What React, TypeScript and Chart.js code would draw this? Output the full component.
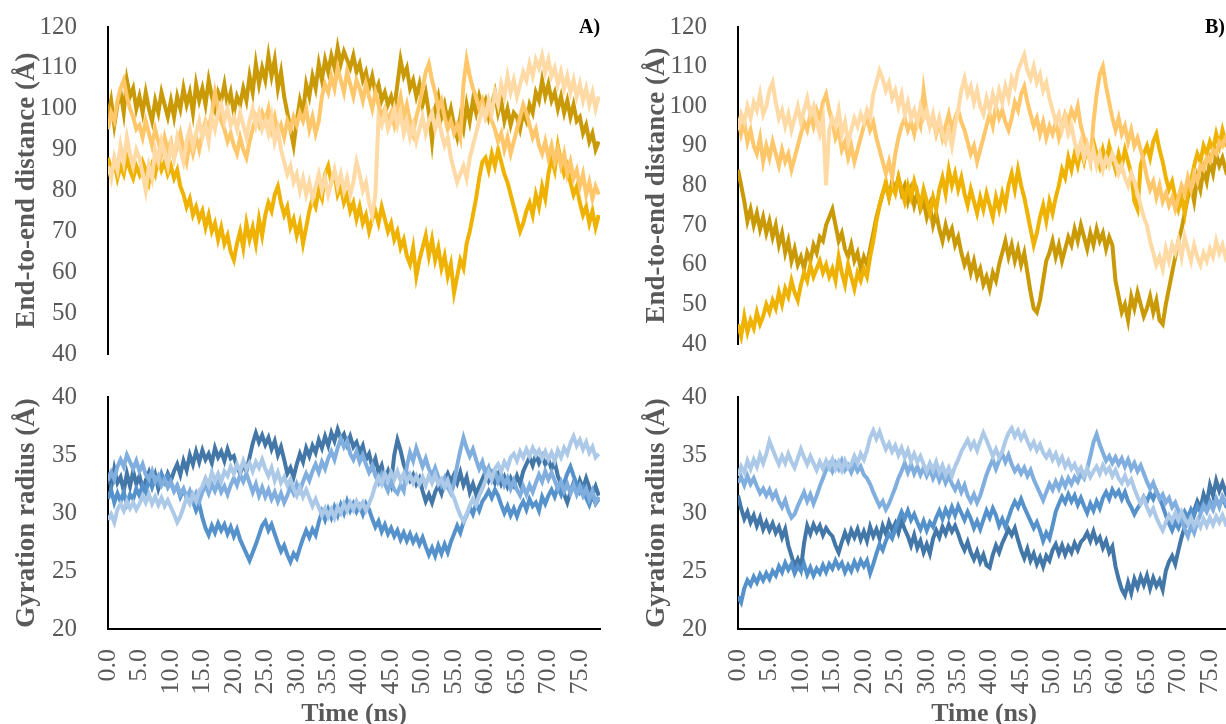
import React, { useEffect, useRef } from "react";
import { Chart, registerables } from "chart.js";

Chart.register(...registerables);

// Time axis: one sample every 0.5 ns, 0 … 78 ns
const TIME: number[] = Array.from({ length: 157 }, (_, i) => i * 0.5);
const X_TICKS = [0, 5, 10, 15, 20, 25, 30, 35, 40, 45, 50, 55, 60, 65, 70, 75];
const E2E_TICKS = [40, 50, 60, 70, 80, 90, 100, 110, 120];
const RG_TICKS = [20, 25, 30, 35, 40];

const GOLD = ["#C99A06", "#EFB200", "#FFC76A", "#FFDAA5"];
const BLUE = ["#4377A8", "#5592CB", "#80AEDE", "#ACC9E8"];

// ---- Panel A, end-to-end distance (Å) ----
const A_E2E_1 = [
  98,102,96,101,104,99,107,103,105,100, 103,99,104,100,97,102,99,104,101,98,
  102,98,103,100,105,101,104,99,106,102, 105,101,107,103,100,104,102,106,101,104,
  99,103,101,105,102,108,104,111,106,110, 107,113,108,112,105,109,103,99,95,91,
  97,102,99,106,103,108,105,111,107,112, 109,113,110,115,111,114,112,110,113,109,
  111,107,109,105,108,104,106,102,104,101, 103,100,106,112,108,110,105,107,103,106,
  101,104,99,92,100,103,98,101,97,100, 96,93,98,95,101,97,102,99,103,100,
  102,98,101,104,99,102,97,100,96,99, 98,95,99,97,101,99,104,102,107,103,
  106,102,104,100,103,99,102,98,101,97, 98,94,96,92,94,90,92,
];
const A_E2E_2 = [
  88,85,87,83,86,84,88,85,83,86, 84,87,85,82,86,84,88,85,87,84,
  86,83,85,81,79,76,78,74,76,73, 75,71,74,70,72,68,71,67,69,65,
  63,67,70,66,72,68,71,67,73,69, 74,77,75,79,81,77,74,76,71,73,
  69,72,67,71,75,78,76,80,78,84, 86,82,84,79,81,77,79,75,77,73,
  76,72,74,70,73,75,72,76,73,70, 72,68,70,66,68,64,62,66,59,63,
  66,69,64,68,63,66,61,64,59,62, 55,59,63,61,67,70,74,78,83,87,
  88,85,89,86,90,87,84,82,79,76, 73,70,72,75,77,74,79,76,81,78,
  84,88,85,91,87,84,86,82,79,81, 77,74,76,72,75,71,74,
];
const A_E2E_3 = [
  95,99,97,102,105,107,103,100,98,95, 96,93,97,94,91,95,92,89,93,90,
  92,88,91,94,90,87,92,89,93,90, 94,97,95,99,104,100,97,95,92,94,
  91,89,93,90,88,92,95,98,96,99, 97,100,95,98,94,96,93,97,95,98,
  96,99,97,100,95,98,94,97,103,106, 104,108,105,110,107,104,109,106,103,107,
  105,102,106,103,100,104,101,98,100,97, 99,96,100,103,98,101,97,94,98,101,
  105,109,111,107,104,100,102,98,95,97, 94,96,93,106,112,108,105,103,100,102,
  98,100,97,95,92,94,90,93,89,92, 95,98,101,99,96,93,95,91,89,92,
  88,91,87,90,86,89,84,87,83,85, 81,84,79,82,78,81,79,
];
const A_E2E_4 = [
  86,83,88,85,91,87,93,89,86,90, 88,84,80,86,83,90,87,92,89,86,
  91,88,93,90,87,92,95,91,94,97, 93,96,92,98,95,99,101,97,100,96,
  98,95,99,96,93,97,100,96,99,95, 97,94,98,92,95,90,87,84,86,82,
  84,80,83,79,82,78,81,84,80,83, 79,82,85,81,84,80,83,79,82,87,
  84,80,82,77,74,79,98,96,99,95, 97,100,96,99,94,97,93,96,92,95,
  98,94,97,99,95,98,94,91,93,88, 85,82,84,86,83,88,91,94,97,100,
  98,102,99,104,101,106,103,108,104,107, 103,106,109,107,111,108,112,110,113,109,
  112,108,110,106,109,105,108,104,107,103, 106,102,105,101,104,100,103,
];

// ---- Panel B, end-to-end distance (Å) ----
const B_E2E_1 = [
  84,80,76,71,74,70,73,69,72,68, 71,67,70,65,68,63,66,61,64,60,
  62,59,63,61,65,63,67,66,70,72, 74,70,66,68,64,62,65,61,63,59,
  62,60,64,68,72,75,78,80,77,81, 79,82,78,80,76,79,75,78,74,76,
  72,75,70,73,69,66,70,67,69,65, 67,63,60,62,58,61,57,59,55,57,
  54,58,56,60,63,66,62,65,61,64, 60,63,58,53,49,48,51,56,61,63,
  66,62,65,61,64,67,65,69,66,70, 67,64,68,65,69,66,68,64,67,65,
  56,52,48,50,46,52,49,53,50,47, 49,52,48,51,46,45,50,54,58,62,
  66,69,73,77,80,76,82,79,84,81, 86,83,88,85,87,84,86,
];
const B_E2E_2 = [
  45,42,47,43,46,44,48,45,47,50, 48,51,49,53,50,54,52,56,53,51,
  55,58,56,60,57,59,61,58,60,57, 59,56,62,58,55,60,57,54,58,56,
  59,57,62,66,71,75,78,81,77,80, 78,82,79,76,80,77,81,78,75,79,
  76,73,77,74,79,82,78,84,80,83, 79,82,78,75,79,76,73,77,74,78,
  75,72,77,74,78,75,80,83,79,84, 80,77,73,69,65,68,72,75,71,76,
  73,77,80,84,82,87,84,88,85,89, 86,90,87,91,88,85,89,86,90,87,
  84,88,85,89,86,83,76,74,85,88, 90,87,91,93,89,86,82,79,81,77,
  74,77,73,79,81,85,88,86,90,88, 91,89,93,90,94,91,93,
];
const B_E2E_3 = [
  97,93,96,91,94,90,88,92,86,90, 87,91,88,85,89,86,88,84,87,90,
  93,96,94,98,95,99,97,101,103,99, 96,92,94,89,91,87,90,86,89,92,
  95,97,94,96,92,89,86,83,86,82, 88,92,95,97,94,96,93,97,95,104,
  98,95,97,93,96,92,95,98,94,97, 99,96,94,91,88,90,86,89,92,95,
  98,95,100,97,99,96,94,97,101,99, 103,105,101,98,95,97,93,96,92,95,
  93,96,92,95,98,96,99,97,100,95, 92,89,86,96,103,108,110,105,101,97,
  94,97,93,95,91,94,90,92,89,86, 82,79,81,77,80,76,78,75,77,74,
  77,80,78,82,79,83,81,85,84,87, 86,89,88,91,90,92,91,
];
const B_E2E_4 = [
  94,98,96,100,97,101,99,103,98,100, 104,106,101,97,99,95,98,94,97,100,
  96,99,102,98,100,96,93,97,80,94, 97,95,99,93,96,91,94,97,95,98,
  96,99,97,103,106,109,107,104,106,102, 104,100,103,98,101,97,99,96,100,97,
  99,95,98,94,97,93,91,94,90,95, 99,104,107,103,105,101,104,100,98,102,
  99,103,100,104,101,105,102,107,105,109, 111,113,109,107,110,106,108,104,106,102,
  99,96,98,94,97,93,95,91,88,91, 87,90,86,89,85,88,84,87,85,88,
  86,83,85,82,80,83,81,78,75,72, 70,66,63,60,62,59,64,61,65,63,
  66,62,67,64,61,65,62,60,63,61, 64,62,66,63,65,62,64,
];

// ---- Panel A, gyration radius (Å) ----
const A_RG_1 = [
  33.5,32.2,33.8,32.6,33.1,31.9,33.4,32.3,33.6,32.5, 33.2,32.0,32.8,33.5,32.4,33.3,32.1,33.0,32.6,33.4,
  32.8,33.6,34.2,33.3,34.5,33.7,35.0,34.2,35.3,34.4, 35.4,34.6,35.1,34.3,35.6,34.8,35.3,34.5,35.5,34.7,
  34.9,34.0,33.4,34.2,33.6,34.8,36.0,36.9,36.1,36.7, 35.9,36.5,35.5,36.2,35.0,35.7,34.6,33.4,33.9,33.1,
  34.2,35.1,34.4,35.6,34.9,35.8,35.2,36.3,35.6,36.6, 35.8,36.9,36.2,37.2,36.4,36.8,35.9,36.6,35.7,36.1,
  35.2,35.8,34.6,35.1,34.0,34.7,33.5,34.1,32.9,33.6, 32.6,35.0,36.3,35.4,34.2,33.4,32.8,33.3,32.5,33.0,
  31.9,31.0,31.6,30.9,31.8,32.4,31.7,32.8,33.4,32.7, 33.3,32.6,33.5,32.4,33.1,31.8,32.5,31.6,32.3,32.9,
  33.6,32.8,33.4,32.6,33.3,32.5,33.1,32.3,33.0,32.4, 33.2,32.5,33.6,34.2,34.8,34.1,35.0,34.3,34.9,34.2,
  34.6,33.8,34.4,33.2,32.5,31.6,30.9,31.8,32.6,31.9, 32.8,32.1,33.0,32.2,31.6,32.3,31.5,
];
const A_RG_2 = [
  31.2,32.0,30.9,31.7,31.0,31.8,30.8,31.6,31.2,32.1, 31.5,32.4,31.8,32.9,32.2,33.0,32.5,33.4,32.7,33.2,
  32.6,31.9,32.3,31.4,32.0,31.3,31.8,31.0,30.2,30.8, 29.6,28.7,28.1,28.9,28.3,29.1,28.5,29.0,28.2,28.8,
  28.0,28.6,27.7,27.1,26.5,25.9,26.6,27.3,28.1,28.9, 29.3,28.5,29.0,28.2,27.4,26.7,27.2,26.4,25.8,26.5,
  26.1,27.0,27.8,28.5,27.9,28.6,28.1,29.2,30.1,29.4, 30.3,29.6,30.5,29.8,30.7,30.0,31.0,30.2,30.8,30.1,
  30.6,29.9,30.8,30.3,29.5,28.8,29.3,28.4,29.0,28.2, 28.7,28.0,28.5,27.7,28.3,27.6,28.2,27.5,28.0,27.3,
  27.9,27.1,26.4,27.0,26.3,27.2,26.5,27.3,26.6,27.5, 28.2,28.9,28.3,29.2,29.8,30.5,29.9,30.8,30.2,31.0,
  31.4,31.9,31.3,32.0,31.5,30.7,30.0,30.6,29.8,30.4, 29.7,30.5,31.0,30.3,31.2,30.6,30.9,30.2,31.4,30.8,
  31.5,32.0,31.4,32.2,31.6,32.6,33.4,34.0,33.2,32.5, 31.8,32.2,31.3,30.7,31.5,30.8,31.2,
];
const A_RG_3 = [
  32.8,33.5,32.9,34.0,34.6,34.0,35.0,34.4,33.8,34.5, 33.6,34.2,33.3,32.9,33.6,32.7,33.2,32.4,32.9,32.2,
  32.7,31.9,32.4,31.6,32.1,31.3,31.9,31.1,31.7,31.0, 31.8,32.4,31.7,32.5,31.9,32.6,31.8,32.3,31.6,32.4,
  33.0,32.4,33.3,32.7,33.4,32.6,31.8,32.5,31.5,32.2, 31.4,32.0,31.2,31.8,31.0,31.7,30.9,31.5,32.3,31.7,
  32.5,31.9,32.7,33.4,32.8,33.6,34.2,33.5,34.4,33.8, 34.7,35.3,34.6,35.6,36.4,35.7,36.2,35.1,34.6,35.3,
  34.4,35.0,34.2,33.5,34.1,33.2,32.6,33.3,32.5,31.9, 32.7,32.0,31.7,32.4,31.9,34.0,35.2,34.5,35.6,34.8,
  34.0,34.7,33.8,33.2,33.9,33.1,32.4,33.0,32.2,31.7, 32.5,34.1,35.4,36.5,35.6,34.9,35.5,34.6,33.8,34.4,
  33.3,33.9,32.9,33.6,32.7,33.3,32.4,33.0,32.1,32.8, 32.0,31.5,32.3,31.6,32.4,31.8,32.6,33.3,32.7,33.6,
  32.9,33.5,32.8,32.1,32.7,31.9,32.5,31.7,32.4,31.6, 32.3,31.5,32.1,31.2,31.9,30.9,31.4,
];
const A_RG_4 = [
  29.4,29.9,29.2,30.3,30.8,30.2,31.0,30.4,30.9,30.3, 30.8,31.5,30.9,31.6,30.8,31.4,30.7,31.3,30.6,31.1,
  30.5,29.9,29.2,29.7,30.5,31.3,30.8,31.6,31.0,31.9, 32.3,33.0,32.4,33.5,32.8,33.4,32.7,33.6,33.2,34.0,
  33.4,34.2,33.6,34.5,33.8,34.3,33.6,34.4,33.9,34.6, 33.8,33.2,33.9,32.8,33.5,32.6,33.1,32.4,32.9,32.1,
  31.5,32.2,31.4,32.0,31.3,30.6,31.2,30.5,29.8,30.4, 29.7,30.3,29.6,30.5,30.0,30.8,30.2,30.9,30.3,31.0,
  30.4,30.9,30.2,30.8,31.5,32.4,33.1,32.5,33.4,32.8, 33.5,32.9,33.6,32.8,33.4,32.7,33.3,32.6,33.2,32.5,
  33.1,32.4,33.2,32.6,33.3,32.5,32.9,32.2,32.8,31.9, 31.3,30.5,29.8,29.3,29.9,30.6,31.2,30.7,31.5,32.1,
  32.8,33.5,32.9,33.8,34.2,33.6,34.4,33.9,34.8,35.1, 34.5,35.3,34.8,35.5,34.9,35.6,35.0,35.4,34.7,35.3,
  34.6,35.2,34.5,35.4,34.8,35.6,35.1,36.0,36.6,35.8, 36.3,35.5,36.1,35.2,35.7,34.8,35.1,
];

// ---- Panel B, gyration radius (Å) ----
const B_RG_1 = [
  31.5,30.4,29.5,30.1,29.2,29.8,28.9,29.6,28.6,29.2, 28.5,29.1,28.3,28.8,27.9,28.6,27.2,26.3,25.4,26.0,
  25.2,27.4,28.9,28.2,29.0,28.4,28.9,28.1,28.7,28.3, 28.0,27.2,26.6,27.5,28.3,27.6,28.5,27.9,28.6,27.7,
  28.4,27.6,28.8,28.0,28.6,27.8,28.9,28.2,29.2,28.5, 29.1,28.3,29.3,28.6,28.0,27.2,28.1,27.0,27.6,26.6,
  27.3,26.5,27.8,28.5,27.9,28.8,28.2,29.0,28.4,28.9, 28.2,27.4,26.8,27.5,26.6,26.0,26.7,25.8,26.4,25.5,
  25.3,26.4,27.2,26.6,27.4,28.0,28.6,28.1,28.7,27.7, 26.8,26.1,26.9,25.9,26.5,25.6,26.2,25.4,26.3,25.9,
  26.8,27.3,26.5,27.2,26.4,27.1,26.6,27.4,26.8,27.5, 27.8,28.3,27.6,28.4,27.5,27.9,27.0,27.6,26.6,27.1,
  25.4,24.3,23.4,22.9,24.0,23.1,24.3,23.6,24.5,23.8, 24.6,23.5,24.4,23.7,24.2,23.4,25.0,25.8,26.3,25.6,
  26.8,27.9,28.8,29.5,28.9,30.2,31.0,30.4,31.6,30.8, 32.4,31.5,32.8,31.9,32.6,31.8,32.4,
];
const B_RG_2 = [
  22.8,22.3,23.5,24.2,23.8,24.5,24.0,24.7,24.2,24.8, 24.3,25.0,24.6,25.4,24.9,25.7,25.1,25.6,24.8,25.4,
  25.0,25.6,24.7,25.3,24.6,25.2,24.8,25.5,24.9,25.6, 25.2,25.9,25.3,25.7,24.9,25.5,25.0,25.8,25.2,25.9,
  25.4,25.9,24.8,25.6,26.5,27.3,26.8,27.6,28.2,27.8, 28.6,29.4,30.1,29.5,30.2,29.4,29.9,29.2,28.6,29.3,
  28.5,29.2,28.8,29.6,30.2,29.5,30.3,29.7,30.5,29.8, 30.6,30.0,29.4,30.1,29.5,28.7,29.3,28.6,29.4,30.2,
  29.6,30.4,29.8,28.9,29.5,28.8,29.6,30.4,31.0,30.5, 31.2,30.5,29.9,29.3,28.7,29.2,28.5,27.6,28.3,27.8,
  28.9,30.1,30.8,31.4,30.9,31.6,31.0,31.5,30.7,31.3, 30.6,30.0,30.8,30.2,31.0,30.4,31.3,31.8,31.2,32.0,
  31.5,31.9,31.2,31.8,31.0,30.5,29.9,30.4,30.8,31.4, 31.0,31.7,31.2,31.9,31.3,30.6,29.8,29.1,28.5,29.2,
  28.7,29.4,30.1,29.6,30.3,29.8,30.6,30.1,30.8,30.3, 31.0,30.4,31.2,30.6,31.3,30.7,31.1,
];
const B_RG_3 = [
  32.6,33.1,32.4,33.2,32.5,33.0,32.3,31.7,32.1,31.5, 32.0,31.3,31.8,31.0,30.5,31.1,30.2,29.6,29.9,30.6,
  31.2,31.8,31.0,31.6,30.8,31.5,32.3,33.0,33.7,34.2, 33.6,34.3,33.8,34.5,33.7,34.1,33.5,34.2,33.6,34.0,
  33.3,33.0,32.5,31.8,31.2,30.6,31.0,30.3,30.8,31.5, 32.2,33.0,33.6,34.3,33.5,34.2,33.4,34.0,33.3,33.9,
  33.2,33.8,33.0,33.6,32.8,33.4,32.6,33.2,32.5,32.0, 32.6,31.8,32.4,31.5,31.0,31.6,30.9,31.5,32.4,33.3,
  34.0,34.6,33.8,34.5,35.1,34.4,35.0,34.2,33.6,34.0, 33.4,33.9,33.2,33.7,32.9,32.3,31.7,31.1,31.8,32.5,
  32.0,32.7,32.1,32.9,32.3,33.0,32.5,33.1,32.7,33.4, 33.0,33.8,34.9,36.1,36.8,35.9,35.2,34.5,34.9,34.3,
  34.8,34.2,34.7,34.0,34.6,33.8,34.3,33.6,34.1,33.4, 32.7,32.1,32.6,31.8,31.2,31.6,30.9,31.3,30.5,30.9,
  30.2,29.4,28.6,28.0,28.9,28.3,29.2,29.9,30.6,30.1, 30.8,30.3,31.2,30.5,31.4,30.9,31.3,
];
const B_RG_4 = [
  33.2,34.0,33.5,34.5,33.8,34.6,34.0,35.0,34.3,35.1, 36.2,35.5,34.8,34.2,34.9,34.3,35.1,34.4,33.9,34.7,
  35.5,34.8,34.2,34.9,34.3,33.7,34.4,33.8,34.5,33.9, 34.6,33.8,34.4,33.7,34.5,33.9,34.2,34.9,34.3,35.1,
  34.6,35.4,36.5,37.1,36.4,37.0,36.2,35.5,36.0,35.3, 35.8,35.0,35.6,34.8,35.4,34.5,35.1,34.4,34.9,34.2,
  33.6,34.3,33.7,34.4,33.5,34.1,33.3,33.9,33.2,34.0, 34.6,35.3,35.8,36.3,35.6,36.1,35.4,36.2,36.9,36.3,
  35.6,34.9,35.5,34.8,35.3,36.2,36.9,37.3,36.6,37.1, 36.4,36.9,36.2,35.6,36.1,35.4,35.9,35.2,34.8,35.3,
  34.6,35.1,34.3,34.8,34.0,34.5,33.8,34.2,33.5,33.9, 33.2,33.8,33.1,33.6,34.0,33.4,34.1,33.5,33.9,33.2,
  33.7,33.0,32.6,33.2,32.5,32.9,32.1,31.4,30.8,31.3, 30.5,29.9,30.4,29.6,29.0,28.5,29.2,29.8,29.3,30.0,
  29.4,30.1,29.5,29.0,29.6,28.9,29.4,28.8,29.5,28.9, 29.6,29.0,29.7,29.2,29.8,29.1,29.5,
];

const SERIF = "'Liberation Serif', 'Times New Roman', serif";
const GREY = "#595959";

type Spec = {
  series: number[][];
  colors: string[];
  yMin: number;
  yMax: number;
  yTicks: number[];
  yTitle: string;
  showX: boolean;
  width: number;
  height: number;
  areaBottom: number;
};

function buildConfig(spec: Spec): any {
  const n = spec.series.length;
  return {
    type: "line",
    data: {
      datasets: spec.series.map((vals, i) => ({
        data: vals.map((v, j) => ({ x: TIME[j], y: v })),
        borderColor: spec.colors[i],
        backgroundColor: spec.colors[i],
        borderWidth: 4,
        pointRadius: 0,
        tension: 0,
        fill: false,
        order: n - i,
      })),
    },
    options: {
      responsive: false,
      animation: false,
      devicePixelRatio: 1,
      layout: {
        padding: {
          left: 0,
          top: 27,
          right: 20,
          bottom: spec.showX ? 0 : spec.height - spec.areaBottom,
        },
      },
      plugins: { legend: { display: false }, tooltip: { enabled: false } },
      scales: {
        x: {
          type: "linear",
          min: 0,
          max: 78.2,
          display: spec.showX,
          afterBuildTicks: (s: any) => {
            s.ticks = X_TICKS.map((v) => ({ value: v }));
          },
          afterFit: (s: any) => {
            if (spec.showX) s.height = 95;
            s.paddingLeft = 0;
            s.paddingRight = 0;
          },
          grid: { display: false },
          border: { display: true, color: "#000", width: 2 },
          ticks: {
            autoSkip: false,
            minRotation: 90,
            maxRotation: 90,
            padding: 12,
            color: GREY,
            font: { family: SERIF, size: 26 },
            callback: (v: any) => Number(v).toFixed(1),
          },
          title: {
            display: true,
            text: "Time (ns)",
            color: GREY,
            padding: { top: 0, bottom: -3 },
            font: { family: SERIF, size: 26, weight: "bold", lineHeight: 1 },
          },
        },
        y: {
          type: "linear",
          min: spec.yMin,
          max: spec.yMax,
          afterBuildTicks: (s: any) => {
            s.ticks = spec.yTicks.map((v) => ({ value: v }));
          },
          afterFit: (s: any) => {
            s.width = 108;
            s.paddingTop = 0;
            s.paddingBottom = 0;
          },
          grid: { display: false },
          border: { display: true, color: "#000", width: 2 },
          ticks: {
            autoSkip: false,
            padding: 23,
            color: GREY,
            font: { family: SERIF, size: 25 },
          },
          title: {
            display: true,
            text: spec.yTitle,
            color: GREY,
            padding: { top: 14, bottom: 0 },
            font: { family: SERIF, size: 27, weight: "bold", lineHeight: 1 },
          },
        },
      },
    },
  };
}

const PANELS: { left: number; top: number; spec: Spec }[] = [
  {
    left: 0,
    top: 0,
    spec: {
      series: [A_E2E_1, A_E2E_2, A_E2E_3, A_E2E_4],
      colors: GOLD,
      yMin: 40,
      yMax: 120,
      yTicks: E2E_TICKS,
      yTitle: "End-to-end distance (Å)",
      showX: false,
      width: 620,
      height: 370,
      areaBottom: 354,
    },
  },
  {
    left: 0,
    top: 370,
    spec: {
      series: [A_RG_1, A_RG_2, A_RG_3, A_RG_4],
      colors: BLUE,
      yMin: 20,
      yMax: 40,
      yTicks: RG_TICKS,
      yTitle: "Gyration radius (Å)",
      showX: true,
      width: 620,
      height: 354,
      areaBottom: 259,
    },
  },
  {
    left: 630,
    top: 0,
    spec: {
      series: [B_E2E_1, B_E2E_2, B_E2E_3, B_E2E_4],
      colors: GOLD,
      yMin: 40,
      yMax: 120,
      yTicks: E2E_TICKS,
      yTitle: "End-to-end distance (Å)",
      showX: false,
      width: 620,
      height: 370,
      areaBottom: 344,
    },
  },
  {
    left: 630,
    top: 370,
    spec: {
      series: [B_RG_1, B_RG_2, B_RG_3, B_RG_4],
      colors: BLUE,
      yMin: 20,
      yMax: 40,
      yTicks: RG_TICKS,
      yTitle: "Gyration radius (Å)",
      showX: true,
      width: 620,
      height: 354,
      areaBottom: 259,
    },
  },
];

function Panel({ left, top, spec }: { left: number; top: number; spec: Spec }) {
  const ref = useRef<HTMLCanvasElement | null>(null);
  useEffect(() => {
    if (!ref.current) return;
    const chart = new Chart(ref.current, buildConfig(spec));
    return () => chart.destroy();
  }, [spec]);
  return (
    <canvas
      ref={ref}
      width={spec.width}
      height={spec.height}
      style={{ position: "absolute", left, top, width: spec.width, height: spec.height }}
    />
  );
}

export default function App() {
  return (
    <div
      style={{
        position: "fixed",
        left: 0,
        top: 0,
        width: 1226,
        height: 724,
        overflow: "hidden",
        background: "#fff",
      }}
    >
      {PANELS.map((p, i) => (
        <Panel key={i} left={p.left} top={p.top} spec={p.spec} />
      ))}
      <div
        style={{
          position: "absolute",
          left: 579,
          top: 15,
          fontFamily: SERIF,
          fontWeight: "bold",
          fontSize: 20,
          color: "#000",
        }}
      >
        A)
      </div>
      <div
        style={{
          position: "absolute",
          left: 1205,
          top: 15,
          fontFamily: SERIF,
          fontWeight: "bold",
          fontSize: 20,
          color: "#000",
        }}
      >
        B)
      </div>
    </div>
  );
}
